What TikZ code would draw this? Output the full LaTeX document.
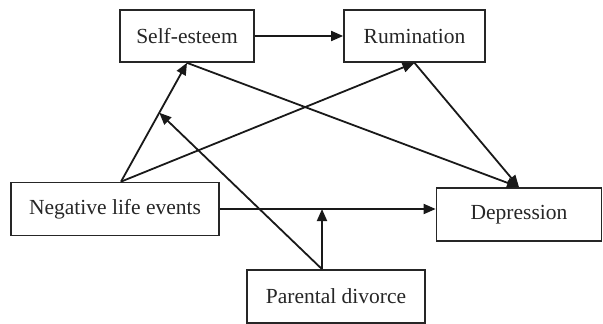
\documentclass[tikz,border=0pt]{standalone}
\usepackage{fontspec}
\setmainfont{Liberation Serif}
\usetikzlibrary{arrows.meta,calc}
\begin{document}
\begin{tikzpicture}[x=1pt,y=-1pt,
  box/.style={draw=black!85,line width=1.7pt,rectangle,inner sep=0pt,font=\fontsize{21.5}{24}\selectfont,text=black!85},
  conn/.style={line width=1.8pt,draw=black!90,-{Triangle[length=12pt,width=10pt]}}]
\useasboundingbox (0,0) rectangle (603,324);
\node[box,minimum width=134pt,minimum height=52pt] (SE) at (187,36) {Self-esteem};
\node[box,minimum width=141pt,minimum height=52pt] (RU) at (414.5,36) {Rumination};
\node[box,minimum width=208pt,minimum height=53pt] (NLE) at (115,209) {Negative life events};
\node[box,minimum width=165pt,minimum height=53pt] (DEP) at (519,214.5) {Depression};
\node[box,minimum width=178pt,minimum height=53pt] (PD) at (336,296.5) {Parental divorce};
\coordinate (nletop) at ([xshift=6pt]NLE.north);
\coordinate (pdtop) at ([xshift=-14pt]PD.north);
\coordinate (m) at ($(nletop)!0.58!(SE.south)$);
\draw[conn] (SE.east) -- (RU.west);
\draw[conn] (nletop) -- (SE.south);
\draw[conn] (nletop) -- (RU.south);
\draw[conn] (SE.south) -- (DEP.north);
\draw[conn] (RU.south) -- (DEP.north);
\draw[conn] (NLE.east) -- (NLE.east -| DEP.west);
\draw[conn] (pdtop) -- (pdtop |- NLE.east);
\draw[conn] (pdtop) -- (m);
\end{tikzpicture}
\end{document}
